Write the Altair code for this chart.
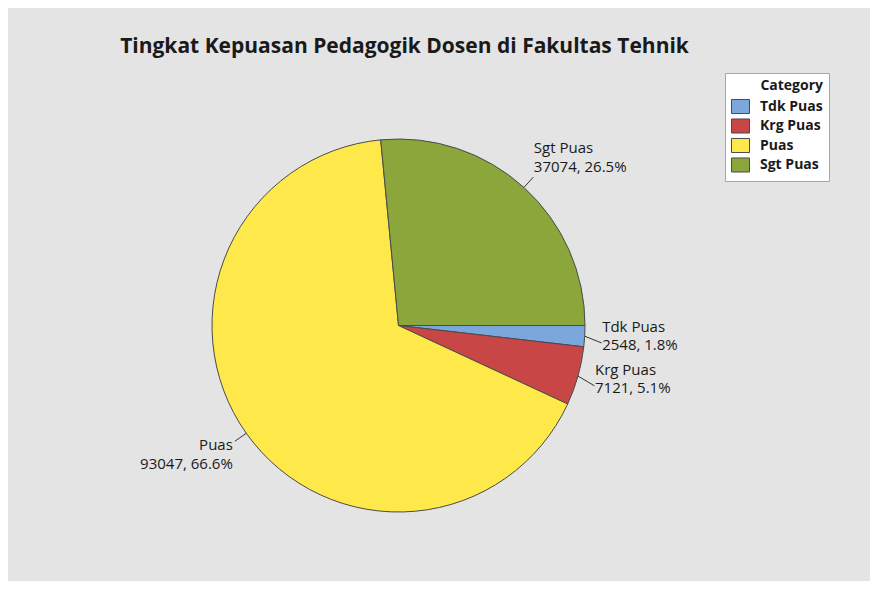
import math
import altair as alt
import pandas as pd

# ---- data ----
categories = ["Tdk Puas", "Krg Puas", "Puas", "Sgt Puas"]
counts = [2548, 7121, 93047, 37074]
order = [1, 2, 3, 4]
colors = ["#7BA7DC", "#C94646", "#FFE94A", "#8BA63A"]
title_text = "Tingkat Kepuasan Pedagogik Dosen di Fakultas Tehnik"

df = pd.DataFrame({"Category": categories, "count": counts, "ord": order})

W, H = 862, 573
CX, CY, R = 390.5, 317.5, 186.5
LEAD = 14
FONT = "Open Sans"

xs = alt.Scale(domain=[-1, 1], range=[CX - R, CX + R])
ys = alt.Scale(domain=[-1, 1], range=[CY + R, CY - R])

base = (
    alt.Chart(df)
    .transform_joinaggregate(total="sum(count)")
    .transform_window(cum="sum(count)", sort=[alt.SortField("ord")], frame=[None, 0])
    .transform_calculate(
        mid="2*PI*(datum.cum - datum.count/2)/datum.total + PI/2",
    )
    .transform_calculate(
        ux="sin(datum.mid)",
        uy="cos(datum.mid)",
    )
    .transform_calculate(
        # leader end: radial, nudged down/out for the low right-hand labels
        x1=f"datum.ux*{(R + LEAD) / R} + ((datum.ux > 0 && datum.uy < 0.5) ? 3 : 0)/{R}",
        y1=f"datum.uy*{(R + LEAD) / R} - ((datum.ux > 0 && datum.uy < 0.5) ? 6 : 0)/{R}",
        pct="format(datum.count/datum.total*100, '.1f')",
    )
    .transform_calculate(
        lx=f"datum.x1 + (datum.ux > 0 ? 0.5 : -2)/{R}",
        ly=f"datum.y1 - (datum.ux > 0 ? (datum.uy > 0.5 ? -29 : -16) : 4)/{R}",
        label="datum.Category + '\\n' + datum.count + ', ' + datum.pct + '%'",
    )
)

pie = alt.Chart(df).mark_arc(stroke="#4a4a4a", strokeWidth=1, outerRadius=R).encode(
    theta=alt.Theta(
        "count:Q",
        stack=True,
        scale=alt.Scale(range=[math.pi / 2, math.pi / 2 + 2 * math.pi]),
    ),
    order=alt.Order("ord:Q"),
    color=alt.Color(
        "Category:N",
        scale=alt.Scale(domain=categories, range=colors),
        legend=alt.Legend(
            title="Category",
            orient="none",
            legendX=717,
            legendY=65,
            fillColor="white",
            strokeColor="#a6a6a6",
            padding=6,
            titleAnchor="end",
            titleFont=FONT,
            titleFontSize=14,
            titleFontWeight="bold",
            titleColor="#1a1a1a",
            titlePadding=4,
            labelFont=FONT,
            labelFontSize=14,
            labelFontWeight="bold",
            labelColor="#1a1a1a",
            labelOffset=10,
            symbolType="M-1,-0.78H1V0.78H-1Z",
            symbolSize=324,
            symbolStrokeColor="#4a4a4a",
            symbolStrokeWidth=1,
            symbolOpacity=1,
            rowPadding=0.5,
        ),
    ),
    x=alt.value(CX),
    y=alt.value(CY),
)

leaders = base.mark_rule(color="#333333", strokeWidth=1).encode(
    x=alt.X("ux:Q", scale=xs, axis=None),
    y=alt.Y("uy:Q", scale=ys, axis=None),
    x2="x1:Q",
    y2="y1:Q",
)

lab_right = base.transform_filter("datum.ux > 0").mark_text(
    align="left", baseline="middle", lineBreak="\n", lineHeight=18.5,
    font=FONT, fontSize=15, color="#1a1a1a",
).encode(
    x=alt.X("lx:Q", scale=xs, axis=None),
    y=alt.Y("ly:Q", scale=ys, axis=None),
    text="label:N",
)

lab_left = base.transform_filter("datum.ux <= 0").mark_text(
    align="right", baseline="middle", lineBreak="\n", lineHeight=18.5,
    font=FONT, fontSize=15, color="#1a1a1a",
).encode(
    x=alt.X("lx:Q", scale=xs, axis=None),
    y=alt.Y("ly:Q", scale=ys, axis=None),
    text="label:N",
)

title = alt.Chart(pd.DataFrame({"t": [title_text]})).mark_text(
    align="center", baseline="middle", font=FONT, fontSize=21,
    fontWeight="bold", color="#1a1a1a",
).encode(text="t:N", x=alt.value(396.5), y=alt.value(39))

chart = (
    alt.layer(pie, leaders, lab_right, lab_left, title)
    .properties(
        width=W,
        height=H,
        background="#e4e4e4",
        padding=0,
        autosize=alt.AutoSizeParams(type="fit", contains="padding"),
    )
    .configure_view(stroke=None)
)

chart.save("out.html", embed_options={"renderer": "svg", "actions": False})
